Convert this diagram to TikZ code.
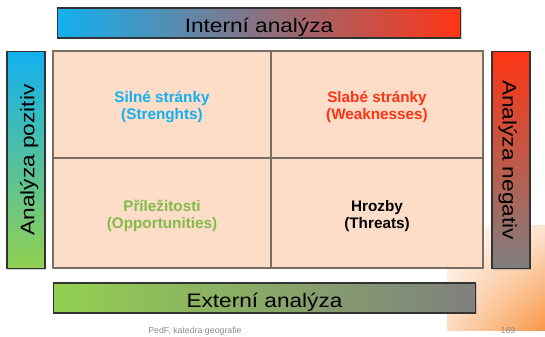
\documentclass[tikz,border=0pt]{standalone}
\usepackage{fontspec}
\setmainfont{Liberation Sans}
\usetikzlibrary{shadows,shadings}

\definecolor{swblue}{RGB}{18,176,240}
\definecolor{swred}{RGB}{255,52,20}
\definecolor{swgreen}{RGB}{146,208,80}
\definecolor{swgray}{RGB}{127,127,127}
\definecolor{swpeach}{RGB}{253,220,200}
\definecolor{swedge}{RGB}{120,110,100}
\definecolor{sworange}{RGB}{248,150,70}

% slide text is a bit stretched along the line
\newcommand{\widetext}[1]{\scalebox{1.16}[1]{#1}}

\tikzset{
	bar/.style={shape=rectangle,draw=black!80,line width=0.6pt,inner sep=0pt,minimum height=0.6cm,
		font=\fontsize{11.1}{13}\selectfont,text height=10.8pt,text depth=0pt,
		drop shadow={shadow xshift=0.4pt,shadow yshift=-0.8pt,opacity=0.35}},
	sidebar/.style={bar,minimum height=0.76cm,minimum width=4.34cm,text height=10pt,text depth=0.4pt},
	cell/.style={shape=rectangle,draw=swedge,line width=0.8pt,fill=swpeach,inner sep=0pt,align=center,
		font=\bfseries\fontsize{8.7}{9.7}\selectfont,text height=18pt,text depth=0.4pt},
	foot/.style={inner sep=0pt,text=black!45,font=\fontsize{5}{6}\selectfont}
}

\begin{document}
\begin{tikzpicture}[x=0.02cm,y=-0.02cm]
	\useasboundingbox (0,0) rectangle (545,337);
	\clip (0,0) rectangle (545,337);
	% corner of the slide
	\shade[upper left=white,upper right=sworange!25!white,lower left=sworange!35!white,lower right=sworange]
		(447,226) rectangle (545,331);

	% SWOT matrix
	\draw (162,104.5) node (S) [cell,minimum width=4.36cm,minimum height=2.14cm,text=swblue] {Silné stránky\\(Strenghts)};
	\draw (377,104.5) node (W) [cell,minimum width=4.24cm,minimum height=2.14cm,text=swred] {Slabé stránky\\(Weaknesses)};
	\draw (162,213) node (O) [cell,minimum width=4.36cm,minimum height=2.2cm,text=swgreen!90!black] {Příležitosti\\(Opportunities)};
	\draw (377,213) node (T) [cell,minimum width=4.24cm,minimum height=2.2cm,text=black] {Hrozby\\(Threats)};

	% bars around it
	\draw (259,23) node (int) [bar,minimum width=8.08cm,left color=swblue,right color=swred] {\widetext{Interní analýza}};
	\draw (264.5,298) node (ext) [bar,minimum width=8.46cm,left color=swgreen,right color=swgray] {\widetext{Externí analýza}};
	\draw (26,160) node (poz) [sidebar,rotate=90,top color=swblue,bottom color=swgreen] {\widetext{Analýza pozitiv}};
	\draw (511,160) node (neg) [sidebar,rotate=-90,top color=swred,bottom color=swgray] {\widetext{Analýza negativ}};

	% footer
	\draw (195,334) node (footL) [foot,anchor=base] {PedF, katedra geografie};
	\draw (508,334) node (footR) [foot,anchor=base] {169};
\end{tikzpicture}
\end{document}
